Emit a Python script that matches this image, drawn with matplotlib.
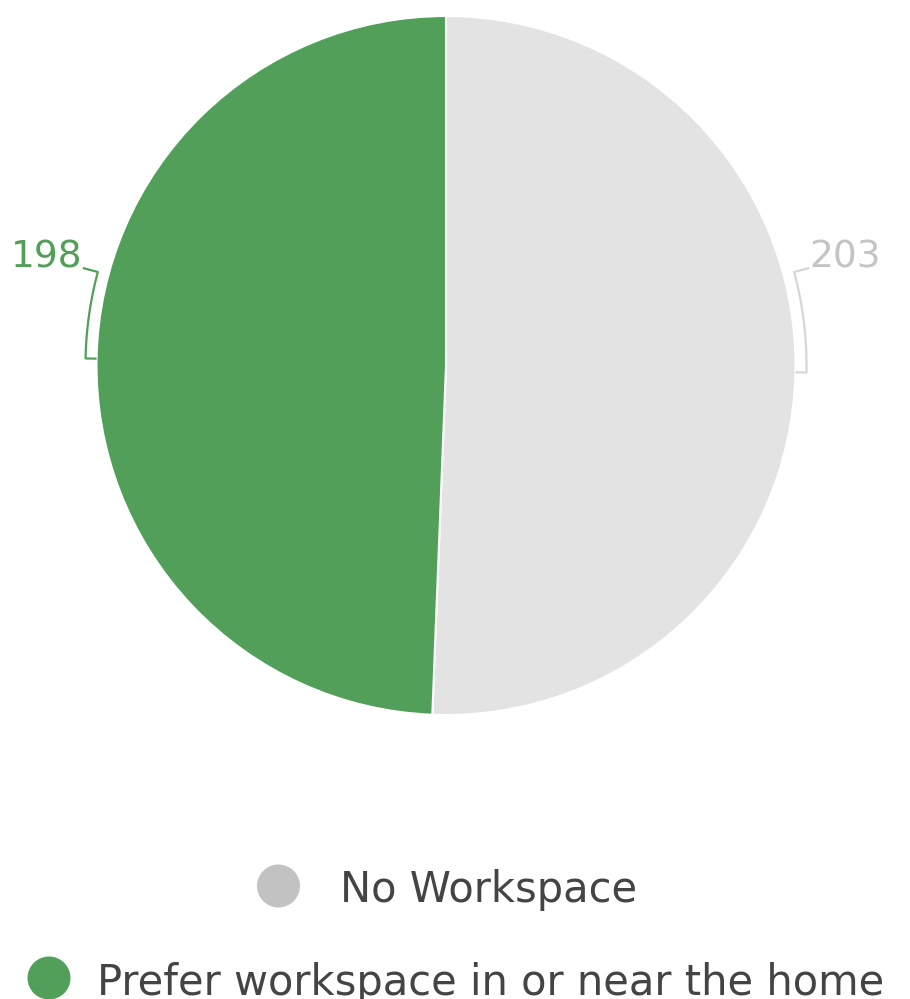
import numpy as np
import matplotlib
matplotlib.use('Agg')
import matplotlib.pyplot as plt
from matplotlib.patches import Circle

# workspace survey answers
labels = ["No Workspace", "Prefer workspace in or near the home"]
counts = [203, 198]
colors = ["#E3E3E3", "#519F59"]
label_colors = ["#C4C4C4", "#519F59"]
bracket_colors = ["#D6D6D6", "#519F59"]
legend_colors = ["#C2C2C2", "#519F59"]

W, H = 910, 999
fig = plt.figure(figsize=(W / 100, H / 100), dpi=100)
ax = fig.add_axes([0, 0, 1, 1])

cx, cy, r = 446, H - 365.5, 349.5
wedges, _ = ax.pie(counts, colors=colors, startangle=90, counterclock=False,
                   center=(cx, cy), radius=r,
                   wedgeprops=dict(edgecolor="white", linewidth=1.5))

ax.set_xlim(0, W)
ax.set_ylim(0, H)
ax.set_aspect("equal")
ax.axis("off")

# bracket connectors: short tick out from the slice middle, arc up to the
# label row, then a short stroke to the value
rb = r + 11
label_y = H - 272
for w, n, c, bc in zip(wedges, counts, label_colors, bracket_colors):
    mid = np.deg2rad((w.theta1 + w.theta2) / 2)
    mid = np.arctan2(np.sin(mid), np.cos(mid))
    side = 1 if np.cos(mid) > 0 else -1
    dy = np.arcsin((label_y - cy) / rb)
    top = dy if side > 0 else np.pi - dy
    arc = np.linspace(mid, top, 40)
    xs = [cx + r * np.cos(mid)] + list(cx + rb * np.cos(arc))
    ys = [cy + r * np.sin(mid)] + list(cy + rb * np.sin(arc))
    lx = xs[-1] + side * 15
    ly = ys[-1] + 4
    xs.append(lx)
    ys.append(ly)
    ax.plot(xs, ys, color=bc, lw=1.6, solid_capstyle="butt")
    ax.text(lx, ly, str(n), color=c, fontsize=27, va="baseline",
            ha="left" if side > 0 else "right")

# legend drawn by hand, one entry per row
legend_rows = [(278.5, 886, 340, 902), (49, 978, 97, 995)]
for (mx, my, tx, ty), lab, c in zip(legend_rows, labels, legend_colors):
    ax.add_patch(Circle((mx, H - my), 21.5, color=c, lw=0))
    ax.text(tx, H - ty, lab, color="#444444", fontsize=30, va="baseline", ha="left")

plt.savefig("out.png", dpi=100)
